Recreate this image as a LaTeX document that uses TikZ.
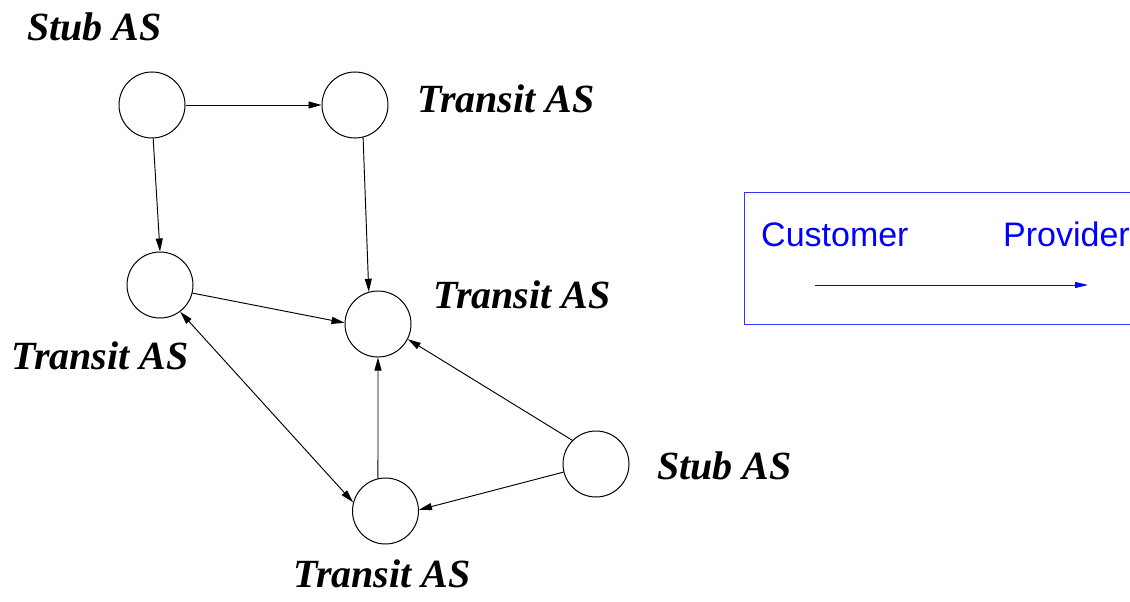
\documentclass[tikz,border=0pt]{standalone}
\usepackage{fontspec}
\setmainfont{Liberation Serif}
\newfontfamily\arialfont{Liberation Sans}
\usetikzlibrary{arrows.meta}
\tikzset{
  asnode/.style={circle, draw=black, line width=1pt, minimum size=66pt, inner sep=0pt},
  aslabel/.style={anchor=base west, inner sep=0pt, font=\fontsize{40}{40}\selectfont\bfseries\itshape},
  link/.style={draw=black, line width=0.95pt, -{Triangle[length=13pt,width=7pt]}},
  legendtext/.style={anchor=base west, inner sep=0pt, text=blue, font=\arialfont\fontsize{34}{36}\selectfont},
}
\begin{document}
\begin{tikzpicture}[x=1pt,y=-1pt]
\useasboundingbox (0,0) rectangle (1130,602);
% AS nodes
\node[asnode] (A) at (152,105) {};
\node[asnode] (B) at (355,105) {};
\node[asnode] (C) at (160,285) {};
\node[asnode] (D) at (378,324) {};
\node[asnode] (E) at (596,464) {};
\node[asnode] (F) at (385.5,511) {};
% labels
\node[aslabel] (lA) at (27,41) {Stub AS};
\node[aslabel] (lB) at (417,113) {Transit AS};
\node[aslabel] (lD) at (433,308) {Transit AS};
\node[aslabel] (lC) at (11,369) {Transit AS};
\node[aslabel] (lE) at (657,479) {Stub AS};
\node[aslabel] (lF) at (293,587) {Transit AS};
% links
\draw[link] (A.east) -- (B.west);
\draw[link] (A.-88) -- (C.90);
\draw[link] (B.-76) -- (D.106);
\draw[link] (C.-14) -- (D.178);
\draw[link] (F.103) -- (D.-90);
\draw[link] (E.135) -- (D.-27);
\draw[link] (E.194) -- (F.2);
\draw[link, {Triangle[length=13pt,width=7pt]}-{Triangle[length=13pt,width=7pt]}] (C.-53) -- (F.165);
% legend
\begin{scope}
\clip (0,0) rectangle (1130,602);
\draw[blue!80, line width=0.9pt] (744,192) rectangle (1140,324);
\node[legendtext] (cust) at (761,246) {Customer};
\node[legendtext] (prov) at (1003,246) {Provider};
\coordinate (l1) at (815,285);
\coordinate (l2) at (1088,285);
\draw[blue, line width=0.9pt, -{Triangle[length=13pt,width=6pt]}] (l1) -- (l2);
\end{scope}
\end{tikzpicture}
\end{document}
